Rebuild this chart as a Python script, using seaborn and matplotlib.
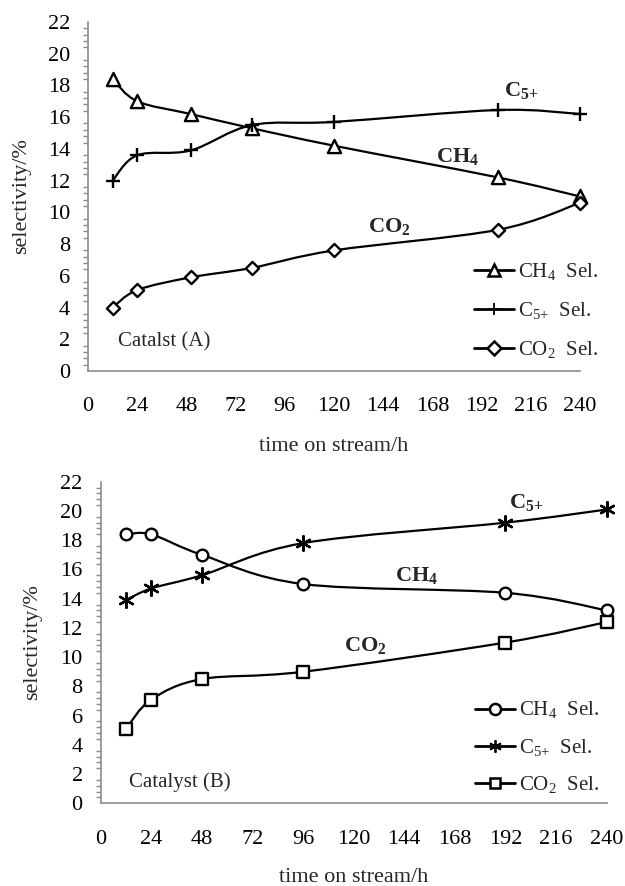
import numpy as np
import matplotlib
matplotlib.use("Agg")
import matplotlib.pyplot as plt
import seaborn as sns
from matplotlib.path import Path
from matplotlib.patches import PathPatch
from matplotlib.lines import Line2D
from matplotlib.ticker import MultipleLocator

# ---------------- data ----------------
time_a = [12, 24, 50, 80, 120, 200, 240]
ch4_a = [18.4, 17.0, 16.2, 15.3, 14.2, 12.2, 11.0]
c5_a = [12.0, 13.6, 13.9, 15.5, 15.7, 16.45, 16.2]
co2_a = [4.0, 5.1, 5.9, 6.5, 7.6, 8.9, 10.6]

time_b = [12, 24, 48, 96, 192, 240]
ch4_b = [18.4, 18.4, 17.0, 15.0, 14.4, 13.2]
c5_b = [13.9, 14.7, 15.6, 17.8, 19.2, 20.1]
co2_b = [5.1, 7.1, 8.5, 9.0, 11.0, 12.4]

x_ticks = list(range(0, 241, 24))

sns.set_theme(style="white")
plt.rcParams["font.family"] = ["Liberation Serif", "DejaVu Serif"]
plt.rcParams["mathtext.fontset"] = "custom"
plt.rcParams["mathtext.rm"] = "Liberation Serif"
plt.rcParams["mathtext.bf"] = "Liberation Serif:bold"

AX_GRAY = "#8c8c8c"
FS = 16


def smooth_path(xs, ys):
    # excel-like smoothed line (cubic bezier, catmull-rom control points)
    pts = np.column_stack([xs, ys]).astype(float)
    n = len(pts)
    verts = [pts[0]]
    codes = [Path.MOVETO]
    for i in range(n - 1):
        p0 = pts[i - 1] if i > 0 else pts[i]
        p1 = pts[i]
        p2 = pts[i + 1]
        p3 = pts[i + 2] if i + 2 < n else pts[i + 1]
        c1 = p1 + (p2 - p0) / 6.0
        c2 = p2 - (p3 - p1) / 6.0
        verts += [c1, c2, p2]
        codes += [Path.CURVE4] * 3
    return Path(verts, codes)


def draw_series(ax, xs, ys, marker, size, filled):
    ax.add_patch(PathPatch(smooth_path(xs, ys), facecolor="none",
                           edgecolor="black", lw=1.6, zorder=2, clip_on=False))
    if filled:
        sns.scatterplot(x=xs, y=ys, marker=marker, s=size, facecolor="white",
                        edgecolor="black", linewidth=1.7, zorder=3, ax=ax, clip_on=False)
    else:
        sns.scatterplot(x=xs, y=ys, marker=marker, s=size, color="black",
                        linewidth=1.7, zorder=3, ax=ax, clip_on=False)


def panel(ax, t, ch4, c5, co2, mk, sizes, tag, notes, leg_anchor, leg_space, xlab_y):
    draw_series(ax, t, ch4, mk[0], sizes[0], True)
    draw_series(ax, t, c5, mk[1], sizes[1], False)
    draw_series(ax, t, co2, mk[2], sizes[2], True)

    ax.set_xlim(0, 240)
    ax.set_ylim(0, 22)
    ax.set_xticks(x_ticks)
    ax.set_yticks(range(0, 23, 2))
    ax.yaxis.set_minor_locator(MultipleLocator(0.4))
    for s in ["top", "right"]:
        ax.spines[s].set_visible(False)
    for s in ["left", "bottom"]:
        ax.spines[s].set_color(AX_GRAY)
        ax.spines[s].set_linewidth(1.2)
    ax.tick_params(axis="both", which="major", direction="out", length=5,
                   width=1.2, color=AX_GRAY, labelsize=FS, labelcolor="black")
    ax.tick_params(axis="y", which="major", pad=8)
    ax.tick_params(axis="x", which="major", pad=14)
    ax.tick_params(axis="y", which="minor", direction="out", length=3.5,
                   width=1.0, color=AX_GRAY, left=True)
    ax.set_ylabel("selectivity/%", fontsize=FS)
    ax.set_xlabel("time on stream/h", fontsize=FS)
    ax.yaxis.set_label_coords(-0.115, 0.5)
    ax.xaxis.set_label_coords(0.5, xlab_y)

    ax.text(notes["tag"][0], notes["tag"][1], tag, fontsize=FS - 1, ha="left", va="center")
    ax.text(notes["c5"][0], notes["c5"][1], r"$\mathbf{C_{5{+}}}$", fontsize=FS, ha="center", va="center")
    ax.text(notes["ch4"][0], notes["ch4"][1], r"$\mathbf{CH_4}$", fontsize=FS, ha="center", va="center")
    ax.text(notes["co2"][0], notes["co2"][1], r"$\mathbf{CO_2}$", fontsize=FS, ha="center", va="center")

    handles = [
        Line2D([], [], color="black", lw=2, marker=mk[0], ms=8, mfc="white", mec="black", mew=1.8),
        Line2D([], [], color="black", lw=2, marker=mk[1], ms=9, mec="black", mew=1.3),
        Line2D([], [], color="black", lw=2, marker=mk[2], ms=7, mfc="white", mec="black", mew=1.8),
    ]
    labels = [r"CH$_4$  Sel.", r"C$_{5{+}}$  Sel.", r"CO$_2$  Sel."]
    ax.legend(handles, labels, loc="lower left", bbox_to_anchor=leg_anchor,
              frameon=False, fontsize=FS - 1, handlelength=1.9, handletextpad=0.2,
              labelspacing=leg_space, borderpad=0, borderaxespad=0)


fig = plt.figure(figsize=(6.25, 8.86), dpi=100)
ax1 = fig.add_axes([0.1408, 0.5813, 0.7872, 0.3939])
ax2 = fig.add_axes([0.1611, 0.0933, 0.8096, 0.3630])

panel(ax1, time_a, ch4_a, c5_a, co2_a, ["^", "+", "D"], [90, 110, 45], "Catalst (A)",
      {"tag": (14.5, 1.85), "c5": (211.5, 17.65), "ch4": (180.5, 13.5), "co2": (147, 9.1)},
      (0.785, 0.028), 0.85, -0.189)
panel(ax2, time_b, ch4_b, c5_b, co2_b, ["o", (6, 2, 0), "s"], [70, 110, 70], "Catalyst (B)",
      {"tag": (13.4, 1.45), "c5": (201.8, 20.6), "ch4": (149.8, 15.6), "co2": (125.6, 10.8)},
      (0.74, 0.023), 0.75, -0.2)

fig.savefig("out.png", dpi=100)
